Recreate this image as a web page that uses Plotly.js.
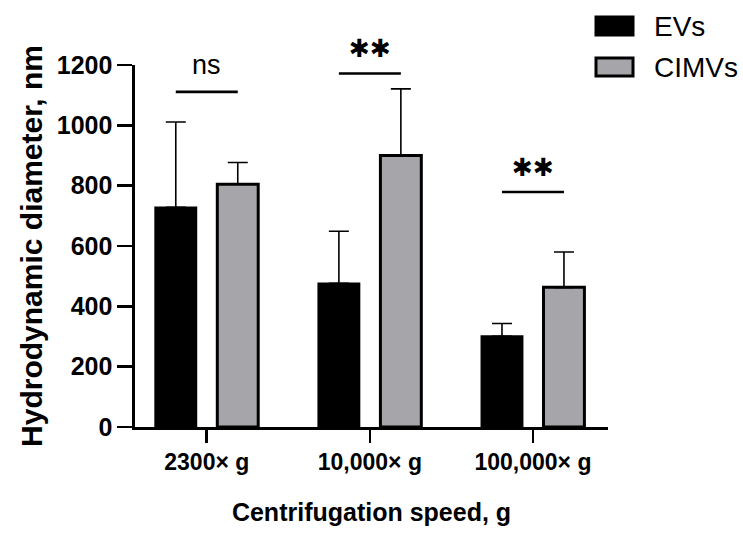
<!DOCTYPE html>
<html>
<head>
<meta charset="utf-8">
<script src="https://cdn.plot.ly/plotly-3.0.1.min.js"></script>
<style>html,body{margin:0;padding:0;background:#fff}#chart{width:743px;height:534px}</style>
</head>
<body>
<div id="chart"></div>
<script>
// ---- data ----
var categories = ["2300× g", "10,000× g", "100,000× g"];
var seriesNames = ["EVs", "CIMVs"];
var evMeans = [728, 476, 301];
var evErr = [283, 173, 42];
var cimvMeans = [805, 900, 463];
var cimvErr = [72, 221, 117];
var sigLabels = ["ns", "**", "**"];
var sigLineY = [1111, 1172, 779];
var yTicks = [0, 200, 400, 600, 800, 1000, 1200];

var FONT = "Liberation Sans, Arial, Helvetica, sans-serif";
var GREY = "#a6a5aa";

var traces = [
  {
    type: "bar", name: seriesNames[0], x: categories, y: evMeans,
    marker: {color: "#000000", line: {color: "#000000", width: 2}},
    error_y: {type: "data", array: evErr, arrayminus: evMeans.map(function(){return 0;}), symmetric: false,
              color: "#000000", thickness: 1.6, width: 10},
    showlegend: false, hoverinfo: "skip"
  },
  {
    type: "bar", name: seriesNames[1], x: categories, y: cimvMeans,
    marker: {color: GREY, line: {color: "#000000", width: 3}},
    error_y: {type: "data", array: cimvErr, arrayminus: cimvMeans.map(function(){return 0;}), symmetric: false,
              color: "#000000", thickness: 1.6, width: 10},
    showlegend: false, hoverinfo: "skip"
  }
];

var shapes = [];
var annotations = [];
for (var i = 0; i < categories.length; i++) {
  shapes.push({type: "line", xref: "x", yref: "y", x0: i - 0.19, x1: i + 0.19,
               y0: sigLineY[i], y1: sigLineY[i], line: {color: "#000", width: 2.6}});
  var isStar = sigLabels[i] !== "ns";
  annotations.push({
    xref: "x", yref: "y", x: i, y: sigLineY[i], yanchor: "middle", yshift: isStar ? 25 : 27,
    text: isStar ? "✱✱" : sigLabels[i], showarrow: false,
    font: isStar ? {family: "DejaVu Sans", size: 25, color: "#000"} : {family: FONT, size: 27, color: "#000"}
  });
}

// legend drawn in paper coordinates
var legColors = ["#000000", GREY];
var legY = [26, 67];
for (var j = 0; j < seriesNames.length; j++) {
  var yc = 1 + (65 - legY[j]) / 362;
  var h = 9 / 362;
  shapes.push({type: "rect", xref: "paper", yref: "paper",
               x0: (596 - 135) / 473, x1: (633 - 135) / 473, y0: yc - h, y1: yc + h,
               fillcolor: legColors[j], line: {color: "#000", width: 3}});
  annotations.push({xref: "paper", yref: "paper", x: (652 - 135) / 473, y: yc, xanchor: "left", yanchor: "middle",
                    text: seriesNames[j], showarrow: false, font: {family: FONT, size: 28, color: "#000"}});
}

var layout = {
  width: 743, height: 534,
  margin: {l: 135, r: 135, t: 65, b: 107, pad: 0},
  paper_bgcolor: "#fff", plot_bgcolor: "#fff",
  barmode: "group", bargap: 0.24, bargroupgap: 0.34,
  showlegend: false,
  font: {family: FONT, color: "#000"},
  xaxis: {
    type: "category", range: [-0.44, 2.46], showgrid: false, zeroline: false,
    showline: true, linecolor: "#000", linewidth: 2.6,
    ticks: "outside", ticklen: 13, tickwidth: 2.6, tickcolor: "#000",
    tickfont: {family: FONT, size: 23, weight: "bold", color: "#000"},
    title: {text: "Centrifugation speed, g", font: {family: FONT, size: 25, weight: "bold", color: "#000"}, standoff: 30}
  },
  yaxis: {
    range: [0, 1200], tickvals: yTicks, showgrid: false, zeroline: false,
    showline: true, linecolor: "#000", linewidth: 2.6,
    ticks: "outside", ticklen: 15, tickwidth: 2.6, tickcolor: "#000",
    tickfont: {family: FONT, size: 25, weight: "bold", color: "#000"},
    title: {text: "Hydrodynamic diameter, nm", font: {family: FONT, size: 30, weight: "bold", color: "#000"}, standoff: 6}
  },
  shapes: shapes,
  annotations: annotations
};

Plotly.newPlot("chart", traces, layout, {staticPlot: true, displayModeBar: false});
</script>
</body>
</html>
